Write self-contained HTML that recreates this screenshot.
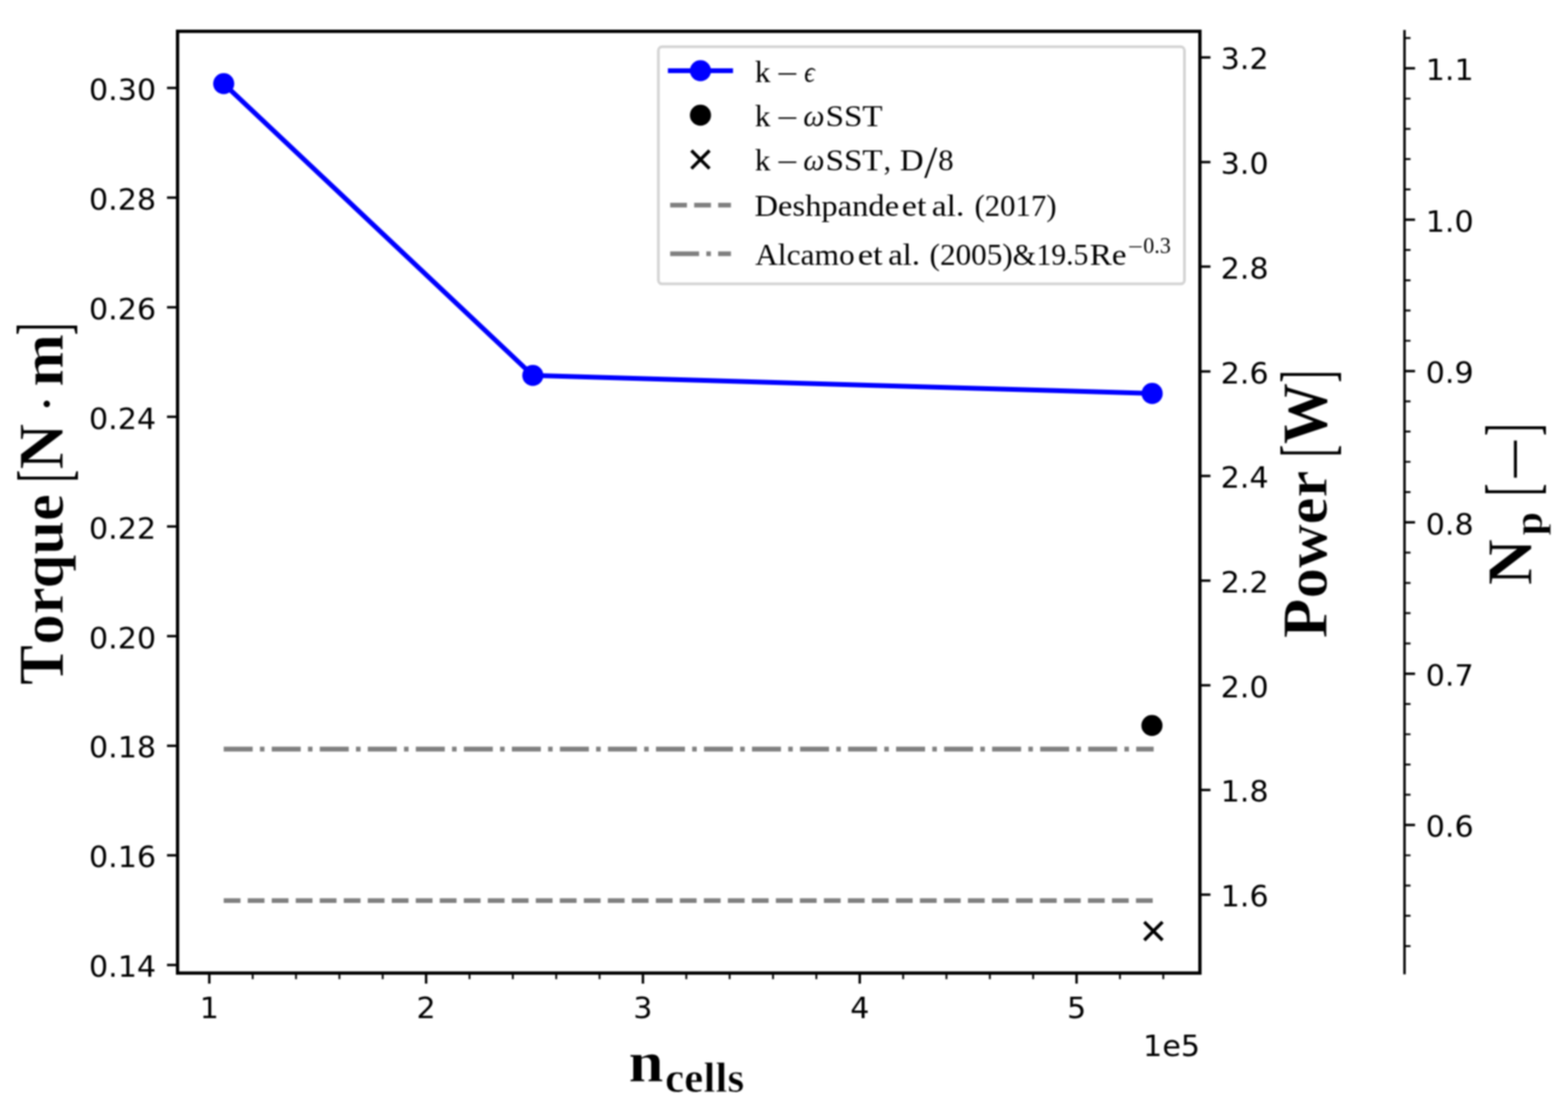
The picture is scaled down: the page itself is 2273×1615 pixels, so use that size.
<!DOCTYPE html>
<html lang="en"><head><meta charset="utf-8"><title>Torque vs n_cells</title>
<style>
html,body{margin:0;padding:0;background:#fff}body{width:2273px;height:1615px}
svg{display:block;filter:blur(0.8px)}
.t{font-family:"DejaVu Sans","Liberation Sans",sans-serif;font-size:43.7px;fill:#000}
.s{font-family:"Liberation Serif","DejaVu Serif",serif;font-weight:normal;fill:#000;stroke:none}
.b{font-family:"Liberation Serif","DejaVu Serif",serif;font-weight:bold;fill:#000;stroke:#fff;stroke-width:0.8px;vector-effect:non-scaling-stroke}
</style></head><body>
<svg width="2273" height="1615" viewBox="0 0 2273 1615">
<rect width="2273" height="1615" fill="#fff"/>
<g id="series">
<path d="M324.3 1305.6H1672.4" stroke="#808080" stroke-width="6.9" fill="none" stroke-dasharray="24.3 10.5"/>
<path d="M324.3 1086.0H1672.4" stroke="#808080" stroke-width="6.9" fill="none" stroke-dasharray="42 10.5 6.6 10.52"/>
<polyline points="324.3,121.3 772.4,544.3 1670.2,570.4" stroke="#0000ff" stroke-width="7.0" fill="none" stroke-linejoin="round" stroke-linecap="square"/>
<circle cx="324.3" cy="121.3" r="15.3" fill="#0000ff"/>
<circle cx="772.4" cy="544.3" r="15.3" fill="#0000ff"/>
<circle cx="1670.2" cy="570.4" r="15.3" fill="#0000ff"/>
<circle cx="1669.9" cy="1051.7" r="15.3" fill="#000"/>
<path d="M1658.8 1336.6L1685.2 1363.0M1658.8 1363.0L1685.2 1336.6" stroke="#000" stroke-width="4.8" fill="none"/>
</g>
<g id="axes" stroke="#000" fill="none">
<rect x="257.4" y="45.4" width="1482.0" height="1365.3" stroke-width="4.8"/>
<path d="M2036.0 43.6V1412.5" stroke-width="3.5"/>
<path d="M242.1 127.5H257.4M242.1 286.4H257.4M242.1 445.4H257.4M242.1 604.3H257.4M242.1 763.3H257.4M242.1 922.2H257.4M242.1 1081.2H257.4M242.1 1240.1H257.4M242.1 1399.1H257.4M1739.4 83.2H1754.7M1739.4 234.9H1754.7M1739.4 386.6H1754.7M1739.4 538.4H1754.7M1739.4 690.1H1754.7M1739.4 841.8H1754.7M1739.4 993.5H1754.7M1739.4 1145.2H1754.7M1739.4 1297.0H1754.7M2036.0 99.1H2051.3M2036.0 318.5H2051.3M2036.0 537.9H2051.3M2036.0 757.3H2051.3M2036.0 976.7H2051.3M2036.0 1196.1H2051.3M303.4 1410.7V1426.0M617.7 1410.7V1426.0M932.0 1410.7V1426.0M1246.3 1410.7V1426.0M1560.6 1410.7V1426.0" stroke-width="3.5"/>
<path d="M366.3 1410.7V1419.4M429.1 1410.7V1419.4M492.0 1410.7V1419.4M554.8 1410.7V1419.4M680.6 1410.7V1419.4M743.4 1410.7V1419.4M806.3 1410.7V1419.4M869.1 1410.7V1419.4M994.9 1410.7V1419.4M1057.7 1410.7V1419.4M1120.6 1410.7V1419.4M1183.4 1410.7V1419.4M1309.2 1410.7V1419.4M1372.0 1410.7V1419.4M1434.9 1410.7V1419.4M1497.7 1410.7V1419.4M1623.5 1410.7V1419.4M1686.3 1410.7V1419.4M2036.0 55.2H2044.7M2036.0 143.0H2044.7M2036.0 186.9H2044.7M2036.0 230.7H2044.7M2036.0 274.6H2044.7M2036.0 362.4H2044.7M2036.0 406.3H2044.7M2036.0 450.1H2044.7M2036.0 494.0H2044.7M2036.0 581.8H2044.7M2036.0 625.7H2044.7M2036.0 669.5H2044.7M2036.0 713.4H2044.7M2036.0 801.2H2044.7M2036.0 845.1H2044.7M2036.0 888.9H2044.7M2036.0 932.8H2044.7M2036.0 1020.6H2044.7M2036.0 1064.5H2044.7M2036.0 1108.3H2044.7M2036.0 1152.2H2044.7M2036.0 1240.0H2044.7M2036.0 1283.9H2044.7M2036.0 1327.7H2044.7M2036.0 1371.6H2044.7" stroke-width="2.7"/>
</g>
<g id="ticklabels" class="t">
<text transform="matrix(1 0 0 0.957 226.3 144.7)" text-anchor="end">0.30</text>
<text transform="matrix(1 0 0 0.957 226.3 303.6)" text-anchor="end">0.28</text>
<text transform="matrix(1 0 0 0.957 226.3 462.6)" text-anchor="end">0.26</text>
<text transform="matrix(1 0 0 0.957 226.3 621.5)" text-anchor="end">0.24</text>
<text transform="matrix(1 0 0 0.957 226.3 780.5)" text-anchor="end">0.22</text>
<text transform="matrix(1 0 0 0.957 226.3 939.5)" text-anchor="end">0.20</text>
<text transform="matrix(1 0 0 0.957 226.3 1098.4)" text-anchor="end">0.18</text>
<text transform="matrix(1 0 0 0.957 226.3 1257.3)" text-anchor="end">0.16</text>
<text transform="matrix(1 0 0 0.957 226.3 1416.3)" text-anchor="end">0.14</text>
<text transform="matrix(1 0 0 0.957 1769.5 100.4)">3.2</text>
<text transform="matrix(1 0 0 0.957 1769.5 252.1)">3.0</text>
<text transform="matrix(1 0 0 0.957 1769.5 403.8)">2.8</text>
<text transform="matrix(1 0 0 0.957 1769.5 555.6)">2.6</text>
<text transform="matrix(1 0 0 0.957 1769.5 707.3)">2.4</text>
<text transform="matrix(1 0 0 0.957 1769.5 859.0)">2.2</text>
<text transform="matrix(1 0 0 0.957 1769.5 1010.7)">2.0</text>
<text transform="matrix(1 0 0 0.957 1769.5 1162.4)">1.8</text>
<text transform="matrix(1 0 0 0.957 1769.5 1314.2)">1.6</text>
<text transform="matrix(1 0 0 0.957 2066.7 116.3)">1.1</text>
<text transform="matrix(1 0 0 0.957 2066.7 335.7)">1.0</text>
<text transform="matrix(1 0 0 0.957 2066.7 555.1)">0.9</text>
<text transform="matrix(1 0 0 0.957 2066.7 774.5)">0.8</text>
<text transform="matrix(1 0 0 0.957 2066.7 993.9)">0.7</text>
<text transform="matrix(1 0 0 0.957 2066.7 1213.3)">0.6</text>
<text transform="matrix(1 0 0 0.957 303.4 1475.6)" text-anchor="middle">1</text>
<text transform="matrix(1 0 0 0.957 617.7 1475.6)" text-anchor="middle">2</text>
<text transform="matrix(1 0 0 0.957 932.0 1475.6)" text-anchor="middle">3</text>
<text transform="matrix(1 0 0 0.957 1246.3 1475.6)" text-anchor="middle">4</text>
<text transform="matrix(1 0 0 0.957 1560.6 1475.6)" text-anchor="middle">5</text>
<text transform="matrix(1 0 0 0.957 1739.6 1531.4)" text-anchor="end">1e5</text>
</g>
<g id="axislabels">
<text class="b" transform="translate(91.0 991.5) rotate(-90)"><tspan x="-1.3" y="0.0" font-size="94.0" textLength="57.38" lengthAdjust="spacingAndGlyphs">T</tspan><tspan x="57.0" y="0.0" font-size="86.0" textLength="218.32" lengthAdjust="spacingAndGlyphs">orque</tspan> <tspan class="s" x="292.3" y="7.5" font-size="104.8" textLength="18.07" lengthAdjust="spacingAndGlyphs">[</tspan><tspan x="310.7" y="0.0" font-size="94.0" textLength="66.55" lengthAdjust="spacingAndGlyphs">N</tspan><tspan x="395.3" y="-2.5" font-size="63.0" textLength="21.31" lengthAdjust="spacingAndGlyphs">·</tspan><tspan x="430.7" y="0.0" font-size="86.0" textLength="76.63" lengthAdjust="spacingAndGlyphs">m</tspan><tspan class="s" x="505.4" y="7.1" font-size="106.4" textLength="17.91" lengthAdjust="spacingAndGlyphs">]</tspan></text>
<text class="b" transform="translate(1922.8 923.6) rotate(-90)"><tspan x="-1.7" y="0.0" font-size="94.0" textLength="57.31" lengthAdjust="spacingAndGlyphs">P</tspan><tspan x="56.1" y="0.0" font-size="86.0" textLength="185.37" lengthAdjust="spacingAndGlyphs">ower</tspan> <tspan class="s" x="260.9" y="7.5" font-size="104.8" textLength="18.07" lengthAdjust="spacingAndGlyphs">[</tspan><tspan x="279.4" y="0.0" font-size="94.0" textLength="89.28" lengthAdjust="spacingAndGlyphs">W</tspan><tspan class="s" x="368.8" y="7.1" font-size="106.4" textLength="17.91" lengthAdjust="spacingAndGlyphs">]</tspan></text>
<text class="b" transform="translate(2219.6 846.5) rotate(-90)"><tspan x="-1.9" y="0.0" font-size="94.0" textLength="66.97" lengthAdjust="spacingAndGlyphs">N</tspan><tspan x="70.3" y="15.4" font-size="58.5" textLength="34.27" lengthAdjust="spacingAndGlyphs">p</tspan> <tspan class="s" x="127.6" y="7.5" font-size="104.8" textLength="18.07" lengthAdjust="spacingAndGlyphs">[</tspan><tspan class="s" x="148.4" y="6.7" font-size="88.0" textLength="65.25" lengthAdjust="spacingAndGlyphs">−</tspan><tspan class="s" x="214.6" y="7.1" font-size="106.4" textLength="18.06" lengthAdjust="spacingAndGlyphs">]</tspan></text>
<text class="b"><tspan x="910.9" y="1568.0" font-size="84.0" textLength="51.04" lengthAdjust="spacingAndGlyphs">n</tspan><tspan x="964.1" y="1583.3" font-size="61.5" textLength="114.65" lengthAdjust="spacingAndGlyphs">cells</tspan></text>
</g>
<g id="legend">
<rect x="954.4" y="67.7" width="762.6" height="343.9" rx="5.5" ry="5.5" fill="#fff" fill-opacity="0.8" stroke="#d4d4d4" stroke-width="4.0"/>
<path d="M971.7 102.5H1059.1" stroke="#0000ff" stroke-width="7.0" stroke-linecap="square" fill="none"/>
<circle cx="1015.4" cy="102.5" r="15.3" fill="#0000ff"/>
<circle cx="1015.4" cy="167.0" r="15.3" fill="#000"/>
<path d="M1002.3 218.2L1028.5 244.4M1002.3 244.4L1028.5 218.2" stroke="#000" stroke-width="4.8" fill="none"/>
<path d="M971.5 297.4H1059.6" stroke="#808080" stroke-width="6.9" stroke-dasharray="24.3 10.5" fill="none"/>
<path d="M971.5 367.9H1059.6" stroke="#808080" stroke-width="6.9" stroke-dasharray="41.9 10.5 6.6 10.5" fill="none"/>
<text class="s"><tspan x="1094.3" y="118.6" font-size="44.0" textLength="22.60" lengthAdjust="spacingAndGlyphs">k</tspan> <tspan x="1125.8" y="121.6" font-size="44.0" textLength="31.54" lengthAdjust="spacingAndGlyphs">−</tspan> <tspan x="1165.8" y="118.6" font-size="44.0" font-style="italic" textLength="15.42" lengthAdjust="spacingAndGlyphs">ϵ</tspan></text>
<text class="s"><tspan x="1094.3" y="182.7" font-size="44.0" textLength="22.60" lengthAdjust="spacingAndGlyphs">k</tspan> <tspan x="1125.8" y="185.7" font-size="44.0" textLength="31.54" lengthAdjust="spacingAndGlyphs">−</tspan> <tspan x="1164.5" y="182.7" font-size="44.0" font-style="italic" textLength="30.71" lengthAdjust="spacingAndGlyphs">ω</tspan><tspan x="1196.7" y="182.7" font-size="44.0" textLength="82.79" lengthAdjust="spacingAndGlyphs">SST</tspan></text>
<text class="s"><tspan x="1094.3" y="247.1" font-size="44.0" textLength="22.60" lengthAdjust="spacingAndGlyphs">k</tspan> <tspan x="1125.8" y="250.1" font-size="44.0" textLength="31.54" lengthAdjust="spacingAndGlyphs">−</tspan> <tspan x="1164.5" y="247.1" font-size="44.0" font-style="italic" textLength="30.71" lengthAdjust="spacingAndGlyphs">ω</tspan><tspan x="1196.7" y="247.1" font-size="44.0" textLength="82.79" lengthAdjust="spacingAndGlyphs">SST</tspan><tspan x="1281.1" y="247.1" font-size="44.0" textLength="10.50" lengthAdjust="spacingAndGlyphs">,</tspan> <tspan x="1304.6" y="247.1" font-size="44.0" textLength="34.33" lengthAdjust="spacingAndGlyphs">D</tspan><tspan x="1339.8" y="256.6" font-size="65.1" textLength="19.00" lengthAdjust="spacingAndGlyphs">/</tspan><tspan x="1359.9" y="247.1" font-size="44.0" textLength="22.41" lengthAdjust="spacingAndGlyphs">8</tspan></text>
<text class="s"><tspan x="1093.8" y="313.3" font-size="44.0" textLength="209.57" lengthAdjust="spacingAndGlyphs">Deshpande</tspan> <tspan x="1307.2" y="313.3" font-size="44.0" textLength="35.73" lengthAdjust="spacingAndGlyphs">et</tspan> <tspan x="1350.7" y="313.3" font-size="44.0" textLength="47.26" lengthAdjust="spacingAndGlyphs">al.</tspan> <tspan x="1412.7" y="313.3" font-size="44.0" textLength="118.87" lengthAdjust="spacingAndGlyphs">(2017)</tspan></text>
<text class="s"><tspan x="1094.7" y="383.6" font-size="44.0" textLength="144.39" lengthAdjust="spacingAndGlyphs">Alcamo</tspan> <tspan x="1243.4" y="383.6" font-size="44.0" textLength="36.15" lengthAdjust="spacingAndGlyphs">et</tspan> <tspan x="1287.4" y="383.6" font-size="44.0" textLength="46.37" lengthAdjust="spacingAndGlyphs">al.</tspan> <tspan x="1347.6" y="383.6" font-size="44.0" textLength="120.42" lengthAdjust="spacingAndGlyphs">(2005)</tspan><tspan x="1468.1" y="383.6" font-size="44.0" textLength="33.84" lengthAdjust="spacingAndGlyphs">&amp;</tspan><tspan x="1502.6" y="383.6" font-size="44.0" textLength="75.09" lengthAdjust="spacingAndGlyphs">19.5</tspan><tspan x="1579.8" y="383.6" font-size="44.0" textLength="53.26" lengthAdjust="spacingAndGlyphs">Re</tspan><tspan x="1635.1" y="367.8" font-size="31.0" textLength="21.83" lengthAdjust="spacingAndGlyphs">−</tspan><tspan x="1657.2" y="367.0" font-size="33.0" textLength="40.10" lengthAdjust="spacingAndGlyphs">0.3</tspan></text>
</g>
</svg>
</body></html>
